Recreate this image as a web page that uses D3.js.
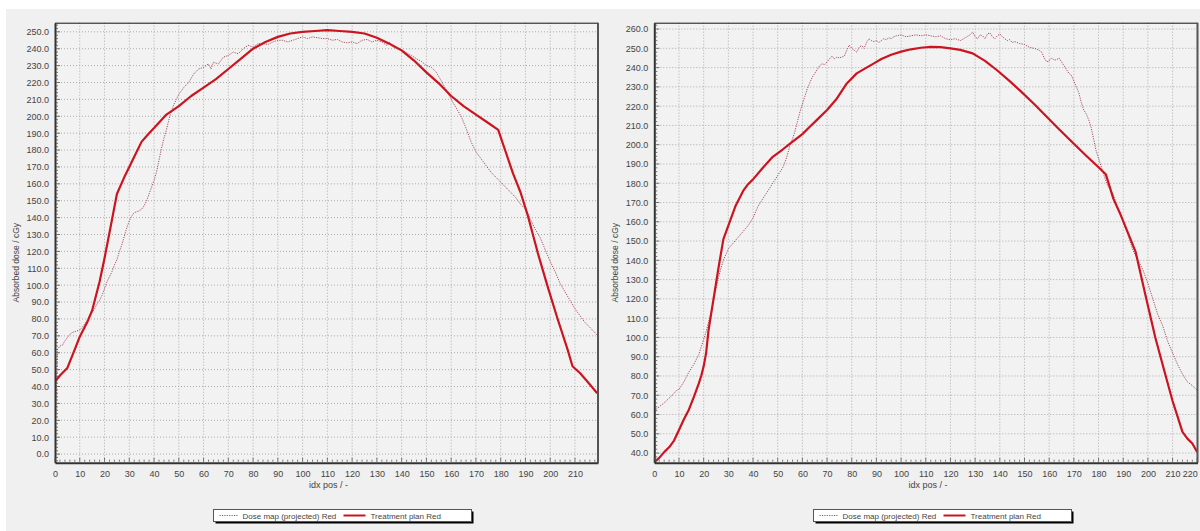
<!DOCTYPE html>
<html><head><meta charset="utf-8">
<script src="https://cdn.jsdelivr.net/npm/d3@7"></script>
<style>html,body{margin:0;padding:0;background:#f0f0f0;overflow:hidden}</style>
</head><body>
<svg id="c" width="1200" height="531"></svg>
<script>
// ---------- DATA ----------
const xTicksLeft = d3.range(0, 211, 10);
const yTicksLeft = d3.range(0, 251, 10);
const xTicksRight = d3.range(0, 221, 10);
const yTicksRight = d3.range(40, 261, 10);

const legendLabels = ["Dose map (projected) Red", "Treatment plan Red"];
const xAxisTitle = "idx pos / -";
const yAxisTitle = "Absorbed dose / cGy";

// Left panel – treatment plan (solid)
const planLeftX = [0,2,5,8,10,13,15,18,20,22,25,28,30,32,35,38,40,42.5,45,50,55,60,65,70,75,80,85,90,95,100,105,110,115,120,125,130,135,140,145,150,155,160,165,170,175,179,182,185,188,191,195,199,203,207,209,212,215,219];
const planLeftY = [43,46.5,51,62,69.5,78,85,102,116,131,154,164,170,176,185,190,193,197,201,206,212,217,222,228,234,240,244,247,249,250,250.5,251,250.5,250,249,246.5,243,239,233,226,219.5,212,206,201,196,192,179,166,155,141,119,99,80,62,52,48,43,36];

// Left panel – dose map (dotted)
const doseLeftX = [0,0.5,1,2,3,4,5,6,7,8,10,11,12,13,14,15,16,17,18,19,20,21,22,23,24,25,26,27,28,29,30,31,32,33,34,35,36,37,38,39,40,41,42,43,44,45,46,47,48,49,50,51,52,54,56,58,60,62,63,64,66,68,70,72,74,76,78,80,82,84,86,88,90,92,94,96,98,100,102,104,106,108,110,112,114,116,118,120,122,124,126,128,130,132,134,135,136,138,140,142,144,146,148,150,152,154,156,158,160,162,164,166,168,170,172,174,176,178,180,182,184,186,188,190,192,194,196,198,200,202,204,206,208,210,212,214,216,218,219];
const doseLeftY = [9,35,62,64,64.5,67,69,71,72,72.5,73.5,75,77,79,82,84,86,89,91,94,98,102,105,108,112,115,120,124,129,134,138,141,143,143.5,144,145,147,150,154,158,162,167,174,181,187,192,198,203,207,210,213,215,217,220,225,228,229,231,228,232,231,235,236,238,237,240,242,241,243,243,242.5,244,245,245,244,245,246,247,246,247,246.5,246,246,245,245.5,244,243.5,244,243,245,245.5,244,245,244,242,244,241.5,240,239,237.5,236,234,232.5,230,229,226,221,215.5,210,205,200,193,185,179,175,171,167,164,161,158,155,152,148,145,139,133,128,121,114,108,101,96,91,86,82,78,75,72,70.5];

// Right panel – treatment plan (solid)
const planRightX = [0,2,4,6,8,10,12,14,16,18,19,20,21,22,23,24,26,28,30,33,36,38,40,44,48,52,55,60,63,66,70,74,78,82,86,89,92,96,100,104,108,112,116,120,124,129,134,139,144,148,154,159,164,170,175,180,183,186,189,192,195,199,203,207,210,212,214,216,218,220];
const planRightY = [35.3,37.5,40.5,43,46.5,52,57.5,62.5,69,76,80,85,92,104,112,120,136,151,158,168.5,176,179.5,182,188,193.7,197.5,200.6,205.5,209.3,213,218,224,231.8,237,240,242.2,244.5,246.7,248.3,249.5,250.3,250.8,250.6,250,249.2,247.4,243.5,238.5,233,228.3,221,214.5,208,200.5,194.3,188.3,184.5,172,163.5,154,144.5,122,100,81,67,59,51,47.5,45,40.5];

// Right panel – dose map (dotted)
const doseRightX = [0,1,2,4,6,8,9,10,12,14,16,18,19,20,21,22,23,24,25,26,27,28,29,30,32,34,36,38,40,42,44,46,48,50,52,53,54,55,56,57,58,59,60,61,62,63,64,65,66,67,68,69,70,71,72,73,74,75,76,77,78,79,80,81,82,83,84,85,86,87,88,89,90,91,92,93,94,95,96,97,98,100,102,104,106,108,110,112,114,116,118,120,122,124,126,128,129,130,131,132,133,134,135,136,137,138,139,140,141,142,143,144,145,146,148,150,152,154,156,157,158,159,160,161,162,163,164,165,166,167,168,169,170,171,172,173,174,175,176,177,178,179,180,181,182,183,184,185,186,188,189.4,190,192,194,196,198,200,202,204,206,208,210,212,214,216,218,220];
const doseRightY = [62,63,64,66,68.5,71,72.5,73,77,82,86,91,95,99,103,108,113,119,125,131,136,140,143,146,149,152,155,158,162,168,172,176,180,184,188,191,195,200,203,207,212,217,221,225,229,232,235,237,239,241,242,241.5,243,244.5,246,244.5,245.5,245,245.5,246,249,251.7,250,249,248,250.5,251.5,250,253,255,254,253.5,254,253,254,255,254.5,255.5,255,256,256.5,257,256,256.5,257,256.5,257,256.5,256,256.5,255,254.5,255,254,255.5,257,258.5,256,255,257,256.5,255,257.5,258,256,255,256.5,257.5,256,255,254,254.5,253,253.5,252.5,252,250.5,250,249,248,245,243,243.5,245,244,244,245,243,241,239,237,236,233,230,227,222,218,216,213,209,203,197,193,189,185,181,178,176.4,174,166,162.5,160,153,145,140,135,128,120,112,106,98,92,86,81,77,75,72.5];

// ---------- DRAW ----------
const svg = d3.select("#c");
const FONT = "'Liberation Sans', Arial, sans-serif";
const RED = "#cc1420";
const DOT = "#9a3c4c";

svg.append("rect").attr("width",1200).attr("height",531).attr("fill","#f0f0f0");
svg.append("rect").attr("width",1200).attr("height",9).attr("fill","#ffffff");
svg.append("rect").attr("width",6).attr("height",531).attr("fill","#ffffff");

const panels = [
  {id:"L", x0:55, x1:598, y0:22.7, y1:462.7, xd:[0,219.3], yd:[-5.1,255.4],
   xt:xTicksLeft, yt:yTicksLeft, planX:planLeftX, planY:planLeftY, doseX:doseLeftX, doseY:doseLeftY,
   legX:213.5, titleX:19},
  {id:"R", x0:654.3, x1:1197.5, y0:22.7, y1:462.7, xd:[0,220.1], yd:[35,263.3],
   xt:xTicksRight, yt:yTicksRight, planX:planRightX, planY:planRightY, doseX:doseRightX, doseY:doseRightY,
   legX:813.5, titleX:618}
];

panels.forEach(p => {
  const x = d3.scaleLinear().domain(p.xd).range([p.x0, p.x1]);
  const y = d3.scaleLinear().domain(p.yd).range([p.y1, p.y0]);
  const g = svg.append("g");

  g.append("rect").attr("x",p.x0).attr("y",p.y0).attr("width",p.x1-p.x0).attr("height",p.y1-p.y0)
    .attr("fill","#f2f2f2");

  // grid
  g.append("g").selectAll("line").data(p.xt.filter(v=>v>p.xd[0])).join("line")
    .attr("x1",d=>x(d)).attr("x2",d=>x(d)).attr("y1",p.y0).attr("y2",p.y1)
    .attr("stroke","#ababab").attr("stroke-width",1).attr("stroke-dasharray","1,2");
  g.append("g").selectAll("line").data(p.yt).join("line")
    .attr("x1",p.x0).attr("x2",p.x1).attr("y1",d=>y(d)).attr("y2",d=>y(d))
    .attr("stroke","#ababab").attr("stroke-width",1).attr("stroke-dasharray","1,2");

  // clip
  const cid = "clip"+p.id;
  svg.append("clipPath").attr("id",cid).append("rect")
    .attr("x",p.x0).attr("y",p.y0).attr("width",p.x1-p.x0).attr("height",p.y1-p.y0);

  const line = d3.line().x(d=>x(d[0])).y(d=>y(d[1]));
  const dose = p.doseX.map((v,i)=>[v,p.doseY[i]]);
  const plan = p.planX.map((v,i)=>[v,p.planY[i]]);

  g.append("path").attr("clip-path",`url(#${cid})`).attr("d",line(dose))
    .attr("fill","none").attr("stroke",DOT).attr("stroke-width",0.9).attr("stroke-dasharray","1.2,1.2");
  g.append("path").attr("clip-path",`url(#${cid})`).attr("d",line(plan))
    .attr("fill","none").attr("stroke",RED).attr("stroke-width",2.2).attr("stroke-linejoin","round");

  // frame
  g.append("line").attr("x1",p.x0).attr("x2",p.x1).attr("y1",p.y0+0.5).attr("y2",p.y0+0.5).attr("stroke","#111").attr("stroke-width",1);
  g.append("line").attr("x1",p.x1).attr("x2",p.x1).attr("y1",p.y0).attr("y2",p.y1).attr("stroke","#555").attr("stroke-width",2);

  // axes via d3
  const xAxis = d3.axisBottom(x).tickValues(p.xt).tickSize(0).tickPadding(8).tickFormat(d3.format("d"));
  const ax = g.append("g").attr("transform",`translate(0,${p.y1})`).call(xAxis);
  ax.select(".domain").attr("stroke","#333").attr("stroke-width",2);
  ax.selectAll("text").attr("font-family",FONT).attr("font-size","9px").attr("fill","#444");
  // keep the last label on the page
  ax.selectAll(".tick text").filter(function(){ return this.getBoundingClientRect().right > 1195; })
    .attr("text-anchor","end").attr("dx","0");

  const yAxis = d3.axisLeft(y).tickValues(p.yt).tickSize(0).tickPadding(6).tickFormat(d3.format(".1f"));
  const ay = g.append("g").attr("transform",`translate(${p.x0},0)`).call(yAxis);
  ay.select(".domain").attr("stroke","#333").attr("stroke-width",2);
  ay.selectAll("text").attr("font-family",FONT).attr("font-size","9px").attr("fill","#444");

  // minor ticks on axes
  const minor = d3.range(Math.ceil(p.xd[0]), p.xd[1], 2);
  g.append("g").selectAll("line").data(minor).join("line")
    .attr("x1",d=>x(d)).attr("x2",d=>x(d)).attr("y1",p.y1-1).attr("y2",d=>d%10===0? p.y1-5 : p.y1-3)
    .attr("stroke","#555").attr("stroke-width",0.8);
  const minorY = d3.range(Math.ceil(p.yd[0]/2)*2, p.yd[1], 2);
  g.append("g").selectAll("line").data(minorY).join("line")
    .attr("x1",p.x0+1).attr("x2",d=>d%10===0? p.x0+5 : p.x0+3).attr("y1",d=>y(d)).attr("y2",d=>y(d))
    .attr("stroke","#555").attr("stroke-width",0.8);

  // titles
  g.append("text").attr("x",(p.x0+p.x1)/2+2).attr("y",488).attr("text-anchor","middle")
    .attr("font-family",FONT).attr("font-size","9px").attr("fill","#444").text(xAxisTitle);
  g.append("text").attr("transform",`translate(${p.titleX},${(p.y0+p.y1)/2+20}) rotate(-90)`)
    .attr("text-anchor","middle").attr("font-family",FONT).attr("font-size","8.5px").attr("fill","#444").text(yAxisTitle);

  // legend
  const lx = p.legX, ly = 509.5, lw = 258, lh = 12;
  g.append("rect").attr("x",lx+2).attr("y",ly+2).attr("width",lw).attr("height",lh).attr("fill","#000");
  g.append("rect").attr("x",lx).attr("y",ly).attr("width",lw).attr("height",lh).attr("fill","#fff").attr("stroke","#555").attr("stroke-width",1);
  g.append("line").attr("x1",lx+6).attr("x2",lx+25).attr("y1",ly+6).attr("y2",ly+6)
    .attr("stroke",DOT).attr("stroke-width",0.9).attr("stroke-dasharray","1.2,1.2");
  g.append("text").attr("x",lx+29).attr("y",ly+9.3).attr("font-family",FONT).attr("font-size","8px").attr("fill","#444").text(legendLabels[0]);
  g.append("line").attr("x1",lx+130).attr("x2",lx+152).attr("y1",ly+6).attr("y2",ly+6)
    .attr("stroke",RED).attr("stroke-width",2);
  g.append("text").attr("x",lx+157).attr("y",ly+9.3).attr("font-family",FONT).attr("font-size","8px").attr("fill","#444").text(legendLabels[1]);
});
</script>
</body></html>
